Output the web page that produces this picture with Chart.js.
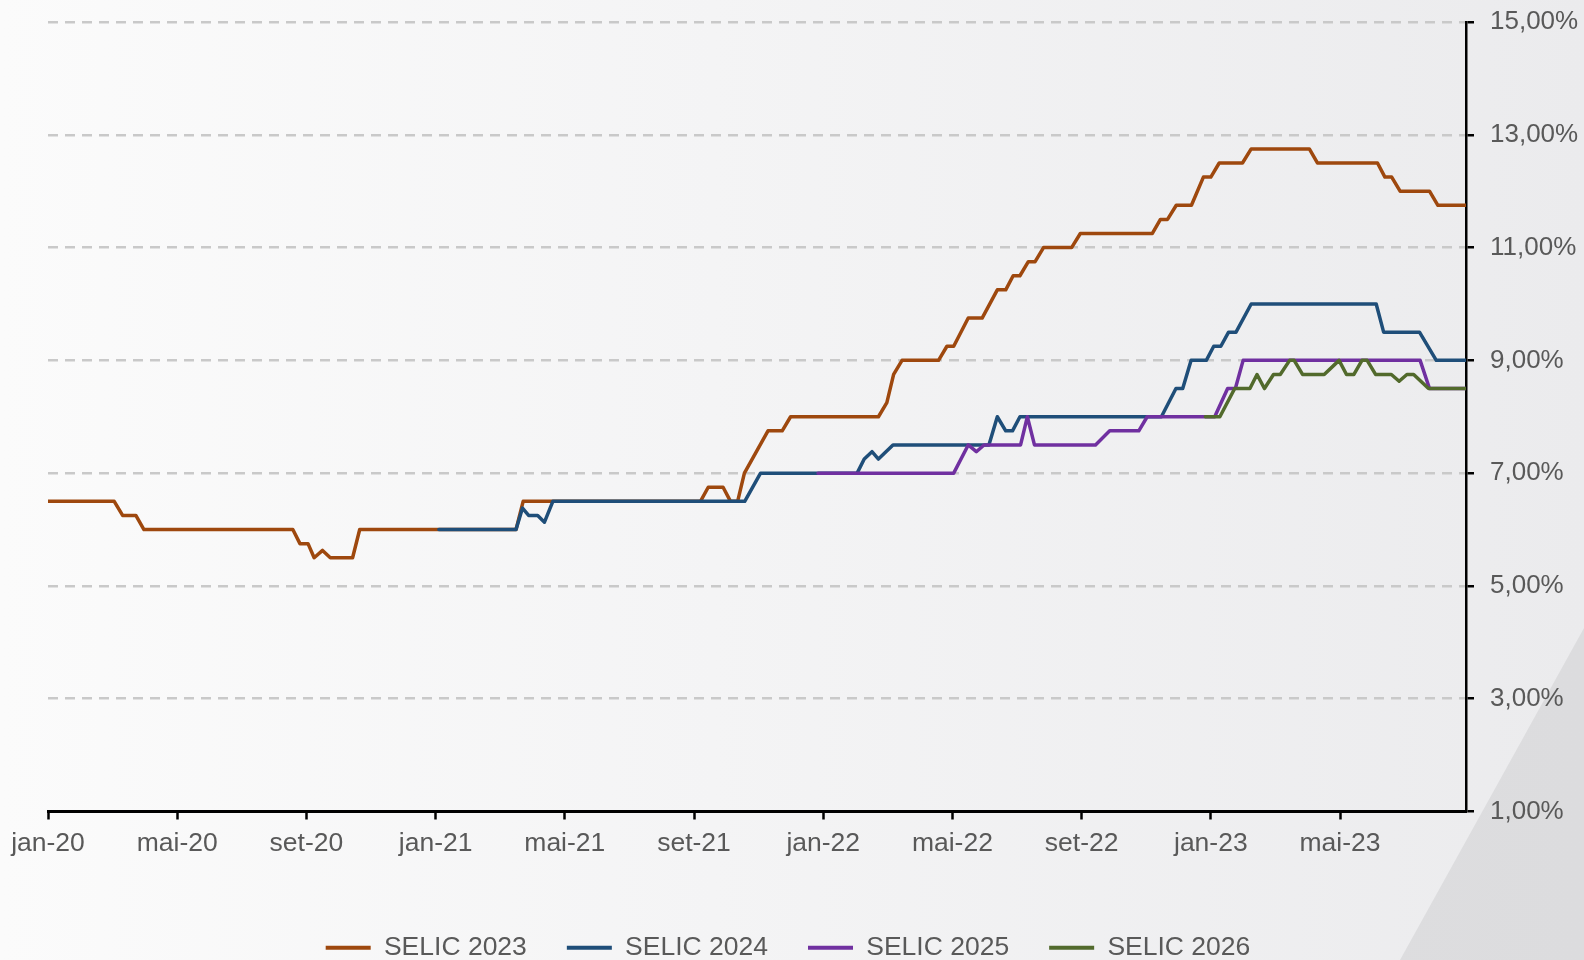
<!DOCTYPE html>
<html>
<head>
<meta charset="utf-8">
<script src="https://cdn.jsdelivr.net/npm/chart.js@4/dist/chart.umd.min.js"></script>
<style>
  html, body { margin: 0; padding: 0; }
  body { width: 1584px; height: 960px; position: relative; overflow: hidden;
    background: linear-gradient(to right, #fbfbfb 0%, #f4f4f5 45%, #ebebed 100%); }
  #deco { position: absolute; left: 0; top: 0; width: 1584px; height: 960px;
    clip-path: polygon(1400px 960px, 1584px 628px, 1584px 960px);
    background: linear-gradient(to right, #e3e3e5, #dcdcde); }
  #c { position: absolute; left: 0; top: 0; }
</style>
</head>
<body>
<div id="deco"></div>
<canvas id="c" width="1584" height="960"></canvas>
<script>
// x positions are months elapsed since jan-2020 (0 = jan-20)
const tickMonths = [0, 4, 8, 12, 16, 20, 24, 28, 32, 36, 40];
const tickLabels = ['jan-20','mai-20','set-20','jan-21','mai-21','set-21','jan-22','mai-22','set-22','jan-23','mai-23'];
const xMax = 43.9;

const seriesNames = ['SELIC 2023', 'SELIC 2024', 'SELIC 2025', 'SELIC 2026'];
const seriesColors = ['#9E480E', '#1F4E79', '#7030A0', '#526A2C'];

const x2023 = [0, 2.05, 2.31, 2.72, 2.97, 7.58, 7.80, 8.05, 8.24, 8.50, 8.74, 9.43, 9.65, 14.49, 14.71, 20.20, 20.44, 20.90, 21.13, 21.35,
  21.56, 22.29, 22.73, 22.99, 25.71, 25.97, 26.18, 26.44, 27.57, 27.83, 28.04, 28.49, 28.92, 29.39, 29.65, 29.88, 30.09, 30.35, 30.56, 30.82,
  31.69, 31.96, 34.19, 34.44, 34.66, 34.93, 35.40, 35.77, 36.00, 36.26, 36.98, 37.25, 39.05, 39.30, 41.16, 41.39, 41.60, 41.86, 42.77, 43.03, 43.9];
const y2023 = [6.5, 6.5, 6.25, 6.25, 6.0, 6.0, 5.75, 5.75, 5.5, 5.63, 5.5, 5.5, 6.0, 6.0, 6.5, 6.5, 6.75, 6.75, 6.5, 6.5,
  7.0, 7.75, 7.75, 8.0, 8.0, 8.25, 8.75, 9.0, 9.0, 9.25, 9.25, 9.75, 9.75, 10.25, 10.25, 10.5, 10.5, 10.75, 10.75, 11.0,
  11.0, 11.25, 11.25, 11.5, 11.5, 11.75, 11.75, 12.25, 12.25, 12.5, 12.5, 12.75, 12.75, 12.5, 12.5, 12.25, 12.25, 12.0, 12.0, 11.75, 11.75];

const x2024 = [12.1, 14.49, 14.69, 14.88, 15.16, 15.37, 15.63, 21.57, 22.06, 25.05, 25.27, 25.51, 25.71, 26.16, 29.13, 29.39, 29.65, 29.86, 30.09, 34.47,
  34.92, 35.13, 35.39, 35.86, 36.09, 36.31, 36.55, 36.78, 37.25, 41.12, 41.35, 42.46, 42.98, 43.9];
const y2024 = [6.0, 6.0, 6.38, 6.25, 6.25, 6.13, 6.5, 6.5, 7.0, 7.0, 7.25, 7.38, 7.25, 7.5, 7.5, 8.0, 7.75, 7.75, 8.0, 8.0,
  8.5, 8.5, 9.0, 9.0, 9.25, 9.25, 9.5, 9.5, 10.0, 10.0, 9.5, 9.5, 9.0, 9.0];

const x2025 = [23.84, 28.04, 28.49, 28.74, 28.98, 30.11, 30.32, 30.54, 32.43, 32.87, 33.77, 34.03, 36.12, 36.52, 36.76, 37.00, 42.48, 42.77, 43.9];
const y2025 = [7.0, 7.0, 7.5, 7.38, 7.5, 7.5, 8.0, 7.5, 7.5, 7.75, 7.75, 8.0, 8.0, 8.5, 8.5, 9.0, 9.0, 8.5, 8.5];

const x2026 = [35.83, 36.28, 36.74, 37.21, 37.43, 37.66, 37.94, 38.15, 38.44, 38.58, 38.84, 39.51, 39.97, 40.20, 40.43, 40.68, 40.84, 41.10, 41.59, 41.83,
  42.07, 42.28, 42.74, 43.9];
const y2026 = [8.0, 8.0, 8.5, 8.5, 8.75, 8.5, 8.75, 8.75, 9.0, 9.0, 8.75, 8.75, 9.0, 8.75, 8.75, 9.0, 9.0, 8.75, 8.75, 8.63,
  8.75, 8.75, 8.5, 8.5];

const yTicks = [1, 3, 5, 7, 9, 11, 13, 15];

const xs = [x2023, x2024, x2025, x2026];
const ys = [y2023, y2024, y2025, y2026];

const FONT = "'Liberation Sans', Arial, Helvetica, sans-serif";
const TXT = '#595959';

const datasets = seriesNames.map((name, i) => ({
  label: name,
  data: xs[i].map((x, j) => ({ x: x, y: ys[i][j] })),
  borderColor: seriesColors[i],
  backgroundColor: seriesColors[i],
  borderWidth: 3.5,
  pointRadius: 0,
  pointHoverRadius: 0,
  tension: 0,
  borderJoinStyle: 'round',
  borderCapStyle: 'round',
  order: seriesNames.length - i
}));

const chart = new Chart(document.getElementById('c'), {
  type: 'line',
  data: { datasets },
  options: {
    responsive: false,
    animation: false,
    devicePixelRatio: 1,
    layout: { padding: { left: 0, right: 0, top: 22, bottom: -11 } },
    plugins: {
      tooltip: { enabled: false },
      legend: {
        position: 'bottom',
        align: 'center',
        labels: {
          boxWidth: 45,
          boxHeight: 4,
          padding: 40,
          color: TXT,
          font: { family: FONT, size: 26.5 },
          sort: (a, b) => a.datasetIndex - b.datasetIndex,
          generateLabels: (c) => Chart.defaults.plugins.legend.labels.generateLabels(c).map(l => Object.assign(l, { lineWidth: 0 }))
        }
      }
    },
    scales: {
      x: {
        type: 'linear',
        position: 'bottom',
        min: 0,
        max: xMax,
        afterBuildTicks: (s) => { s.ticks = tickMonths.map(v => ({ value: v })); },
        afterFit: (s) => { s.height = 83; },
        ticks: {
          autoSkip: false,
          maxRotation: 0,
          padding: 8,
          color: TXT,
          font: { family: FONT, size: 26.5 },
          callback: (v) => tickLabels[tickMonths.indexOf(v)]
        },
        grid: { display: true, drawOnChartArea: false, drawTicks: true, tickLength: 8, tickColor: '#000', tickWidth: 2.5 },
        border: { display: true, color: '#000', width: 3 }
      },
      yLeftSpace: {
        type: 'linear',
        position: 'left',
        display: true,
        min: 1,
        max: 15,
        afterFit: (s) => { s.width = 48; s.paddingTop = 0; s.paddingBottom = 0; },
        ticks: { display: false },
        grid: { display: false, drawOnChartArea: false, drawTicks: false },
        border: { display: false }
      },
      y: {
        position: 'right',
        min: 1,
        max: 15,
        afterBuildTicks: (s) => { s.ticks = yTicks.map(v => ({ value: v })); },
        afterFit: (s) => { s.width = 118; s.paddingTop = 0; s.paddingBottom = 0; },
        ticks: {
          padding: 16,
          color: TXT,
          font: { family: FONT, size: 26 },
          callback: (v) => v.toFixed(2).replace('.', ',') + '%'
        },
        grid: {
          display: true,
          drawOnChartArea: true,
          color: (ctx) => (ctx.tick && ctx.tick.value === 1) ? 'rgba(0,0,0,0)' : '#c9c9c9',
          lineWidth: 2.5,
          drawTicks: true,
          tickLength: 8,
          tickColor: '#000',
          tickWidth: 2.5
        },
        border: { display: true, color: '#000', width: 2.5, dash: [10, 7] }
      }
    }
  }
});

// nudge the legend block slightly left, as in the original layout
if (chart.legend) {
  const lg = chart.legend;
  const origDraw = lg.draw.bind(lg);
  lg.draw = function () {
    const ctx = this.ctx;
    ctx.save();
    ctx.translate(-4, 0);
    origDraw();
    ctx.restore();
  };
  chart.draw();
}
</script>
</body>
</html>
